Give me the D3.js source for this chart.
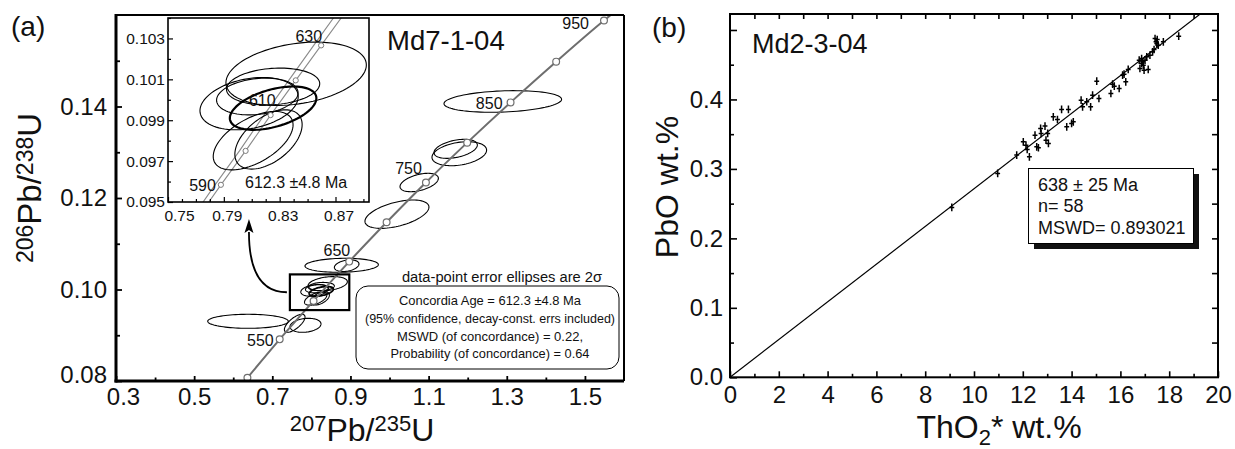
<!DOCTYPE html>
<html><head><meta charset="utf-8">
<script src="https://cdn.jsdelivr.net/npm/d3@7"></script>
<style>
body{margin:0;background:#fff;}
svg{display:block;}
</style></head><body>
<svg id="c" width="1235" height="449"></svg>
<script>
// ---------- DATA : panel (a) ----------
const concAge = [500, 550, 600, 650, 700, 750, 800, 850, 900, 950];
const concX   = [0.6363, 0.7189, 0.8056, 0.8968, 0.9925, 1.0931, 1.1987, 1.3097, 1.4264, 1.5488];
const concY   = [0.0807, 0.0891, 0.0975, 0.1061, 0.1147, 0.1234, 0.1321, 0.1409, 0.1498, 0.1588];
const concTailX = [1.574];
const concTailY = [0.16055];
const concLabelAges = [550, 650, 750, 850, 950];

// error ellipses outside the zoom box (cx, cy = 207/235, 206/238; sx, sy = 2 sigma; rho)
const mainCx  = [1.2898, 1.1692, 1.1785, 1.0759, 1.0190, 0.8775, 0.8903, 0.6378, 0.7573, 0.7849];
const mainCy  = [0.1411, 0.13075, 0.12968, 0.12339, 0.11646, 0.10529, 0.1052, 0.09305, 0.09261, 0.09217];
const mainSx  = [0.1505, 0.0555, 0.0699, 0.0491, 0.0819, 0.0939, 0.0315, 0.1031, 0.0264, 0.0397];
const mainSy  = [0.00236, 0.00208, 0.00262, 0.00201, 0.0031, 0.00153, 0.00127, 0.00153, 0.00197, 0.00153];
const mainRho = [0.2, 0.4, 0.3, 0.45, 0.5, 0.1, 0.3, 0.0, 0.7, 0.2];

// ellipses shown in the inset (and in the zoom box)
const insCx  = [0.8418, 0.8081, 0.8253, 0.8140, 0.8253, 0.8110, 0.8220];
const insCy  = [0.10127, 0.09981, 0.10065, 0.10016, 0.09959, 0.09800, 0.09806];
const insSx  = [0.0503, 0.0352, 0.0334, 0.0292, 0.0310, 0.0286, 0.0241];
const insSy  = [0.00155, 0.00128, 0.0009, 0.0009, 0.00106, 0.00143, 0.00145];
const insRho = [0.28, 0.27, 0.15, 0.2, 0.46, 0.54, 0.5];

// inset concordia (with decay-constant band line)
const insAge   = [580, 590, 600, 610, 620, 630, 640];
const insConcX = [0.7704, 0.7879, 0.8056, 0.8235, 0.8415, 0.8597, 0.8781];
const insConcY = [0.09414, 0.09584, 0.0975, 0.09925, 0.10095, 0.10266, 0.10438];
const insBandX = [0.7664, 0.7837, 0.8012, 0.8188, 0.8365, 0.8544, 0.8725];
const insMarkAges = [590, 600, 610, 620, 630];
const insLabelAges = [590, 610, 630];

const zoomBoxX = [0.745, 0.897];
const zoomBoxY = [0.0955, 0.1033];

const aXTicks = [0.3, 0.5, 0.7, 0.9, 1.1, 1.3, 1.5];
const aXMinor = [0.4, 0.6, 0.8, 1.0, 1.2, 1.4];
const aYTicks = [0.08, 0.10, 0.12, 0.14];
const aYMinor = [0.09, 0.11, 0.13, 0.15];
const iXTicks = [0.75, 0.79, 0.83, 0.87];
const iXMinor = [0.76, 0.77, 0.78, 0.80, 0.81, 0.82, 0.84, 0.85, 0.86, 0.88, 0.89];
const iYTicks = [0.095, 0.097, 0.099, 0.101, 0.103];
const iYMinor = [0.096, 0.098, 0.100, 0.102, 0.104];

const legendLines = [
  "Concordia  Age = 612.3 \u00b14.8 Ma",
  "(95% confidence, decay-const. errs included)",
  "MSWD  (of concordance) = 0.22,",
  "Probability (of concordance) = 0.64"
];

// ---------- DATA : panel (b) ----------
const thoX = [9.09, 10.97, 11.75, 12.02, 12.13, 12.18, 12.27, 12.50, 12.57, 12.64,
  12.73, 12.91, 12.75, 12.95, 13.05, 13.02, 13.25, 13.42, 13.59, 13.87,
  13.80, 14.00, 14.07, 14.39, 14.45, 14.62, 14.78, 14.86, 15.03, 15.12,
  15.61, 15.68, 15.75, 15.95, 16.09, 16.15, 16.22, 16.32, 16.77, 16.80,
  16.87, 16.91, 16.97, 17.01, 17.08, 17.14, 17.21, 17.32, 17.38, 17.42,
  17.46, 17.49, 17.51, 17.55, 17.76, 18.39, 16.87, 16.94];
const pboY = [0.2446, 0.2935, 0.3199, 0.3390, 0.3342, 0.3281, 0.3174, 0.3486, 0.3318, 0.3304,
  0.3583, 0.3616, 0.3511, 0.3414, 0.3367, 0.3511, 0.3750, 0.3712, 0.3856, 0.3856,
  0.3606, 0.3655, 0.3678, 0.3990, 0.3894, 0.3966, 0.3894, 0.4062, 0.4263, 0.4014,
  0.4086, 0.4220, 0.4191, 0.4158, 0.4350, 0.4364, 0.4253, 0.4432, 0.4565, 0.4446,
  0.4590, 0.4541, 0.4422, 0.4565, 0.4613, 0.4432, 0.4637, 0.4685, 0.4719, 0.4878,
  0.4829, 0.4806, 0.4863, 0.4781, 0.4829, 0.4911, 0.4518, 0.4494];
const thoErr = 0.1;
const pboErr = 0.0055;
const fitX = [0, 19.4];
const fitY = [0, 0.5265];
const bXTicks = [0, 2, 4, 6, 8, 10, 12, 14, 16, 18, 20];
const bXMinor = [1, 3, 5, 7, 9, 11, 13, 15, 17, 19];
const bTopTicks = d3.range(1, 20);
const bYTicks = [0.0, 0.1, 0.2, 0.3, 0.4];
const bYMinor = [0.05, 0.15, 0.25, 0.35, 0.45];
const bYMajorNoLabel = [0.5];
const bRightTicks = [0.05, 0.1, 0.15, 0.2, 0.25, 0.3, 0.35, 0.4, 0.45, 0.5];
const boxLines = ["638 \u00b1 25 Ma", "n= 58", "MSWD= 0.893021"];

// ---------- drawing ----------
const FA = '"Liberation Sans", Arial, Helvetica, sans-serif';
const FT = FA;
const svg = d3.select('#c');
const defs = svg.append('defs');

const xA = d3.scaleLinear([0.3, 1.6], [116, 624]);
const yA = d3.scaleLinear([0.08, 0.16], [381, 15]);
const xI = d3.scaleLinear([0.75, 0.894], [168, 369]);
const yI = d3.scaleLinear([0.095, 0.104], [202, 18]);
const xB = d3.scaleLinear([0, 20], [730, 1218]);
const yB = d3.scaleLinear([0, 0.523], [377.3, 14]);

function clipFor(id, xs, ys) {
  defs.append('clipPath').attr('id', id).append('rect')
    .attr('x', xs.range()[0]).attr('y', ys.range()[1])
    .attr('width', xs.range()[1] - xs.range()[0]).attr('height', ys.range()[0] - ys.range()[1]);
}
clipFor('clipA', xA, yA); clipFor('clipI', xI, yI); clipFor('clipB', xB, yB);

function ellipsePts(cx, cy, sx, sy, rho) {
  const n = 90, k = Math.sqrt(1 - rho * rho), pts = [];
  for (let i = 0; i < n; i++) {
    const t = 2 * Math.PI * i / n;
    pts.push([cx + sx * Math.cos(t), cy + sy * (rho * Math.cos(t) + k * Math.sin(t))]);
  }
  return pts;
}
function drawEllipses(g, xs, ys, CX, CY, SX, SY, R, boldIdx, w, wb) {
  const line = d3.line().x(d => xs(d[0])).y(d => ys(d[1])).curve(d3.curveLinearClosed);
  CX.forEach((cx, i) => {
    g.append('path').attr('d', line(ellipsePts(cx, CY[i], SX[i], SY[i], R[i])))
      .attr('fill', 'none').attr('stroke', '#000').attr('stroke-width', i === boldIdx ? wb : w);
  });
}
function styleAxis(g, size, font, sw) {
  g.select('.domain').remove();
  g.selectAll('line').attr('stroke', '#000').attr('stroke-width', sw);
  g.selectAll('text').attr('font-family', font).attr('font-size', size).attr('fill', '#111');
}

// ===== Panel (a) =====
const gA = svg.append('g');
const plotA = gA.append('g').attr('clip-path', 'url(#clipA)');

drawEllipses(plotA, xA, yA, mainCx, mainCy, mainSx, mainSy, mainRho, -1, 1.1, 1.1);
drawEllipses(plotA, xA, yA, insCx, insCy, insSx, insSy, insRho, 4, 1.1, 1.8);

const lineA = d3.line().x(d => xA(d[0])).y(d => yA(d[1])).curve(d3.curveMonotoneX);
const concPts = concX.map((x, i) => [x, concY[i]]).concat(concTailX.map((x, i) => [x, concTailY[i]]));
plotA.append('path').attr('d', lineA(concPts)).attr('fill', 'none').attr('stroke', '#6e6e6e').attr('stroke-width', 2);
plotA.selectAll('circle.cm').data(concAge).enter().append('circle')
  .attr('cx', (d, i) => xA(concX[i])).attr('cy', (d, i) => yA(concY[i])).attr('r', 3.4)
  .attr('fill', '#fff').attr('stroke', '#6e6e6e').attr('stroke-width', 1.2);

const labOff = {550: [-6, 1], 650: [1, -11], 750: [-4, -14], 850: [-8, 1], 950: [-15, 3]};
concLabelAges.forEach(a => {
  const i = concAge.indexOf(a);
  gA.append('text').attr('x', xA(concX[i]) + labOff[a][0]).attr('y', yA(concY[i]) + labOff[a][1])
    .attr('dy', '0.36em').attr('text-anchor', 'end').attr('font-family', FA).attr('font-size', 16)
    .attr('fill', '#111').text(a);
});

gA.append('rect').attr('x', xA(zoomBoxX[0])).attr('y', yA(zoomBoxY[1]))
  .attr('width', xA(zoomBoxX[1]) - xA(zoomBoxX[0])).attr('height', yA(zoomBoxY[0]) - yA(zoomBoxY[1]))
  .attr('fill', 'none').attr('stroke', '#000').attr('stroke-width', 2.2);

{
  const sx = xA(zoomBoxX[0]) - 3, sy = (yA(zoomBoxY[0]) + yA(zoomBoxY[1])) / 2;
  const ex = xI(0.808), ey = yI.range()[0] + 30;
  gA.append('path').attr('d', `M${sx},${sy} Q${ex},${sy} ${ex},${ey}`)
    .attr('fill', 'none').attr('stroke', '#000').attr('stroke-width', 1.8);
  gA.append('path').attr('d', `M${ex},${ey - 13} L${ex - 4.5},${ey + 1} L${ex},${ey - 2} L${ex + 4.5},${ey + 1} Z`)
    .attr('fill', '#000');
}

const axL = gA.append('g').attr('transform', `translate(${xA.range()[0]},0)`)
  .call(d3.axisLeft(yA).tickValues(aYTicks).tickSize(-6).tickPadding(9).tickFormat(d3.format('.2f')));
styleAxis(axL, 24, FT, 1.8);
axL.selectAll('text').filter(d => d === 0.08).attr('dy', '0.05em');
const axLm = gA.append('g').attr('transform', `translate(${xA.range()[0]},0)`)
  .call(d3.axisLeft(yA).tickValues(aYMinor).tickSize(-4).tickFormat(''));
styleAxis(axLm, 10, FT, 1.8);
const axB = gA.append('g').attr('transform', `translate(0,${yA.range()[0]})`)
  .call(d3.axisBottom(xA).tickValues(aXTicks).tickSize(-5).tickPadding(7).tickFormat(d3.format('.1f')));
styleAxis(axB, 24, FT, 1.8);
axB.selectAll('text').filter(d => d === 0.3).attr('dx', 7);
const axBm = gA.append('g').attr('transform', `translate(0,${yA.range()[0]})`)
  .call(d3.axisBottom(xA).tickValues(aXMinor).tickSize(-3.5).tickFormat(''));
styleAxis(axBm, 10, FT, 1.8);

{
  const [x0, x1] = xA.range(), [y1, y0] = yA.range();
  gA.append('line').attr('x1', x0).attr('x2', x1).attr('y1', y0).attr('y2', y0).attr('stroke', '#000').attr('stroke-width', 2.2);
  gA.append('line').attr('x1', x1).attr('x2', x1).attr('y1', y0).attr('y2', y1).attr('stroke', '#000').attr('stroke-width', 2);
  gA.append('line').attr('x1', x0).attr('x2', x0).attr('y1', y0 - 1).attr('y2', y1 + 1.5).attr('stroke', '#000').attr('stroke-width', 3);
  gA.append('line').attr('x1', x0 - 1.5).attr('x2', x1).attr('y1', y1).attr('y2', y1).attr('stroke', '#000').attr('stroke-width', 3);
}

gA.append('text').attr('x', 387).attr('y', 50).attr('font-family', FA).attr('font-size', 27.5).attr('fill', '#111').text('Md7-1-04');

gA.append('text').attr('x', 502).attr('y', 282).attr('text-anchor', 'middle').attr('font-family', FA)
  .attr('font-size', 14.7).attr('fill', '#111').text('data-point error ellipses are 2\u03c3');
gA.append('rect').attr('x', 356).attr('y', 286).attr('width', 263).attr('height', 83).attr('rx', 12)
  .attr('fill', '#fff').attr('stroke', '#000').attr('stroke-width', 1);
const legW = [182, 250, 186, 199];
legendLines.forEach((t, i) => {
  gA.append('text').attr('x', 490).attr('y', 305 + i * 17.8).attr('text-anchor', 'middle')
    .attr('font-family', FA).attr('font-size', 13).attr('fill', '#111')
    .attr('textLength', legW[i]).attr('lengthAdjust', 'spacingAndGlyphs').text(t);
});

function supText(g, x, y, rot, parts, big, small, shift) {
  const t = g.append('text').attr('transform', `translate(${x},${y}) rotate(${rot})`)
    .attr('text-anchor', 'middle').attr('font-family', FT).attr('fill', '#111');
  let cur = 0;
  parts.forEach(p => {
    const target = p.s === 'sup' ? -shift : (p.s === 'sub' ? shift * 0.6 : 0);
    t.append('tspan').attr('font-size', p.s ? small : big).attr('dy', target - cur).text(p.t);
    cur = target;
  });
  return t;
}
supText(gA, 362, 441, 0, [{t: '207', s: 'sup'}, {t: 'Pb/'}, {t: '235', s: 'sup'}, {t: 'U'}], 32, 22, 10);
supText(gA, 41, 188, -90, [{t: '206', s: 'sup'}, {t: 'Pb/'}, {t: '238', s: 'sup'}, {t: 'U'}], 33, 23, 8);
gA.append('text').attr('x', 11).attr('y', 36).attr('font-family', FA).attr('font-size', 28).attr('fill', '#111').text('(a)');

// ----- inset -----
const gI = svg.append('g');
gI.append('rect').attr('x', xI.range()[0]).attr('y', yI.range()[1])
  .attr('width', xI.range()[1] - xI.range()[0]).attr('height', yI.range()[0] - yI.range()[1]).attr('fill', '#fff');
const plotI = gI.append('g').attr('clip-path', 'url(#clipI)');
const lineI = d3.line().x(d => xI(d[0])).y(d => yI(d[1]));
plotI.append('path').attr('d', lineI(insBandX.map((x, i) => [x, insConcY[i]])))
  .attr('fill', 'none').attr('stroke', '#8a8a8a').attr('stroke-width', 1.1);
plotI.append('path').attr('d', lineI(insConcX.map((x, i) => [x, insConcY[i]])))
  .attr('fill', 'none').attr('stroke', '#8a8a8a').attr('stroke-width', 1.1);
drawEllipses(plotI, xI, yI, insCx, insCy, insSx, insSy, insRho, 4, 1.1, 2.2);
insMarkAges.forEach(a => {
  const i = insAge.indexOf(a);
  plotI.append('circle').attr('cx', xI(insConcX[i])).attr('cy', yI(insConcY[i])).attr('r', 2.6)
    .attr('fill', '#fff').attr('stroke', '#7a7a7a').attr('stroke-width', 1);
});
const insOff = {590: [-5, 0], 610: [5, -15], 630: [1, -9]};
insLabelAges.forEach(a => {
  const i = insAge.indexOf(a);
  gI.append('text').attr('x', xI(insConcX[i]) + insOff[a][0]).attr('y', yI(insConcY[i]) + insOff[a][1])
    .attr('dy', '0.36em').attr('text-anchor', 'end').attr('font-family', FA).attr('font-size', 16)
    .attr('fill', '#111').text(a);
});
gI.append('text').attr('x', 245).attr('y', 187.5).attr('font-family', FA).attr('font-size', 16)
  .attr('fill', '#111').text('612.3 \u00b14.8 Ma');

const iaL = gI.append('g').attr('transform', `translate(${xI.range()[0]},0)`)
  .call(d3.axisLeft(yI).tickValues(iYTicks).tickSize(-5).tickPadding(3).tickFormat(d3.format('.3f')));
styleAxis(iaL, 15.5, FT, 1.2);
const iaLm = gI.append('g').attr('transform', `translate(${xI.range()[0]},0)`)
  .call(d3.axisLeft(yI).tickValues(iYMinor).tickSize(-3).tickFormat(''));
styleAxis(iaLm, 10, FT, 1.2);
const iaB = gI.append('g').attr('transform', `translate(0,${yI.range()[0]})`)
  .call(d3.axisBottom(xI).tickValues(iXTicks).tickSize(-5).tickPadding(8).tickFormat(d3.format('.2f')));
styleAxis(iaB, 15.5, FT, 1.2);
iaB.selectAll('text').attr('dx', d => d === 0.75 ? 11 : 3);
const iaBm = gI.append('g').attr('transform', `translate(0,${yI.range()[0]})`)
  .call(d3.axisBottom(xI).tickValues(iXMinor).tickSize(-3).tickFormat(''));
styleAxis(iaBm, 10, FT, 1.2);
gI.append('rect').attr('x', xI.range()[0]).attr('y', yI.range()[1])
  .attr('width', xI.range()[1] - xI.range()[0]).attr('height', yI.range()[0] - yI.range()[1])
  .attr('fill', 'none').attr('stroke', '#000').attr('stroke-width', 1.6);

// ===== Panel (b) =====
const gB = svg.append('g');
const plotB = gB.append('g').attr('clip-path', 'url(#clipB)');
plotB.append('path').attr('d', d3.line().x(d => xB(d[0])).y(d => yB(d[1]))(fitX.map((x, i) => [x, fitY[i]])))
  .attr('fill', 'none').attr('stroke', '#000').attr('stroke-width', 1.2);
const pts = thoX.map((x, i) => [x, pboY[i]]);
plotB.selectAll('line.h').data(pts).enter().append('line')
  .attr('x1', d => xB(d[0] - thoErr)).attr('x2', d => xB(d[0] + thoErr))
  .attr('y1', d => yB(d[1])).attr('y2', d => yB(d[1])).attr('stroke', '#000').attr('stroke-width', 1.5);
plotB.selectAll('line.v').data(pts).enter().append('line')
  .attr('x1', d => xB(d[0])).attr('x2', d => xB(d[0]))
  .attr('y1', d => yB(d[1] - pboErr)).attr('y2', d => yB(d[1] + pboErr)).attr('stroke', '#000').attr('stroke-width', 1.5);

const bL = gB.append('g').attr('transform', `translate(${xB.range()[0]},0)`)
  .call(d3.axisLeft(yB).tickValues(bYTicks).tickSize(-7).tickPadding(7).tickFormat(d3.format('.1f')));
styleAxis(bL, 24, FT, 1.6);
const bLn = gB.append('g').attr('transform', `translate(${xB.range()[0]},0)`)
  .call(d3.axisLeft(yB).tickValues(bYMajorNoLabel).tickSize(-7).tickFormat(''));
styleAxis(bLn, 10, FT, 1.6);
const bLm = gB.append('g').attr('transform', `translate(${xB.range()[0]},0)`)
  .call(d3.axisLeft(yB).tickValues(bYMinor).tickSize(-4).tickFormat(''));
styleAxis(bLm, 10, FT, 1.6);
const bB = gB.append('g').attr('transform', `translate(0,${yB.range()[0]})`)
  .call(d3.axisBottom(xB).tickValues(bXTicks).tickSize(-6).tickPadding(9).tickFormat(d3.format('d')));
styleAxis(bB, 24, FT, 1.6);
const bBm = gB.append('g').attr('transform', `translate(0,${yB.range()[0]})`)
  .call(d3.axisBottom(xB).tickValues(bXMinor).tickSize(-3.5).tickFormat(''));
styleAxis(bBm, 10, FT, 1.6);
const bT = gB.append('g').attr('transform', `translate(0,${yB.range()[1]})`)
  .call(d3.axisTop(xB).tickValues(bTopTicks).tickSize(-5).tickFormat(''));
styleAxis(bT, 10, FT, 1.6);
const bR = gB.append('g').attr('transform', `translate(${xB.range()[1]},0)`)
  .call(d3.axisRight(yB).tickValues(bRightTicks).tickSize(-6).tickFormat(''));
styleAxis(bR, 10, FT, 1.6);
gB.append('rect').attr('x', xB.range()[0]).attr('y', yB.range()[1])
  .attr('width', xB.range()[1] - xB.range()[0]).attr('height', yB.range()[0] - yB.range()[1])
  .attr('fill', 'none').attr('stroke', '#000').attr('stroke-width', 2);

gB.append('rect').attr('x', 1034).attr('y', 174).attr('width', 165).attr('height', 75).attr('fill', '#111');
gB.append('rect').attr('x', 1028.5).attr('y', 168.5).attr('width', 165).attr('height', 75)
  .attr('fill', '#fff').attr('stroke', '#000').attr('stroke-width', 1);
boxLines.forEach((t, i) => {
  gB.append('text').attr('x', 1038).attr('y', 191 + i * 21.3).attr('font-family', FA).attr('font-size', 18)
    .attr('fill', '#111').text(t);
});

gB.append('text').attr('x', 752).attr('y', 53).attr('font-family', FA).attr('font-size', 27).attr('fill', '#111').text('Md2-3-04');
gB.append('text').attr('x', 652).attr('y', 37).attr('font-family', FA).attr('font-size', 28).attr('fill', '#111').text('(b)');
supText(gB, 999, 438, 0, [{t: 'ThO'}, {t: '2', s: 'sub'}, {t: '* wt.%'}], 32, 22, 11);
supText(gB, 678, 187, -90, [{t: 'PbO wt.%'}], 32, 20, 0);
</script>
</body></html>
